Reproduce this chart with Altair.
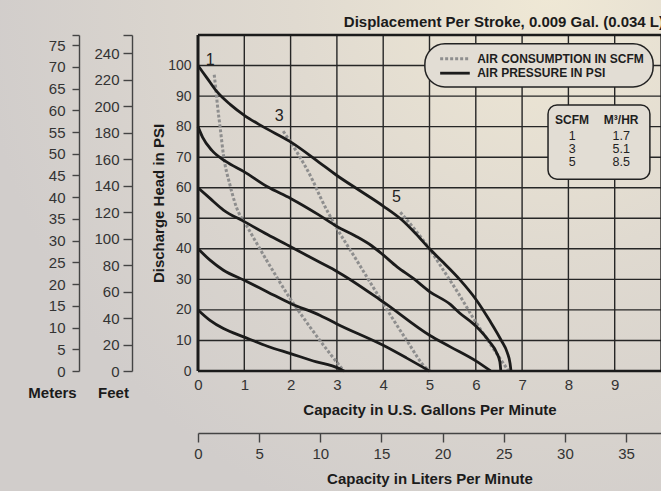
import altair as alt
import pandas as pd

SANS = "Liberation Sans, Arial, Helvetica, sans-serif"
INK = "#1b1b1b"
LABEL = "#333333"

# ---- performance curves: discharge head (psi) vs capacity (US gpm) ----
AIR_PSI = [20, 40, 60, 80, 100]
CURVE_GPM = {
    20: [0, 0.26, 0.55, 1.0, 1.5, 2.0, 2.56, 3.0, 3.15],
    40: [0, 0.26, 0.55, 1.0, 1.5, 2.0, 2.64, 3.0, 4.0, 4.5, 5.0],
    60: [0, 0.26, 0.55, 1.0, 1.5, 2.0, 2.64, 3.0, 4.0, 5.0, 5.45, 6.0, 6.32],
    80: [0, 0.1, 0.3, 0.6, 1.0, 1.5, 2.0, 2.6, 3.0, 3.4, 3.75, 4.0, 4.3, 4.65,
         5.0, 5.45, 5.65, 6.0, 6.3, 6.45, 6.52, 6.54],
    100: [0, 0.2, 0.4, 0.7, 1.0, 1.4, 2.0, 2.6, 3.0, 3.5, 4.0, 4.4, 4.7, 5.0,
          5.3, 5.65, 6.0, 6.3, 6.55, 6.68, 6.74, 6.76],
}
CURVE_PSI = {
    20: [20, 16.6, 13.9, 11.1, 8.1, 5.7, 3.0, 1.1, 0],
    40: [40, 36.3, 33.0, 29.7, 25.9, 22.1, 18.2, 15.4, 8.4, 4.3, 0],
    60: [60, 56.5, 52.7, 48.9, 44.7, 40.7, 35.5, 32.6, 22.6, 11.7, 7.9, 3.3, 0],
    80: [80, 76.5, 72.2, 68.6, 65.2, 60.3, 56.5, 51.2, 47.3, 44.2, 41.0, 38.0,
         34.1, 30.3, 26.0, 21.8, 19.0, 14.7, 9.5, 6.0, 3.0, 0],
    100: [100, 95.8, 91.6, 87.2, 83.7, 80.0, 75.0, 68.5, 64.0, 59.0, 54.0, 49.5,
          45.0, 40.0, 35.5, 30.0, 23.5, 16.5, 10.0, 6.0, 2.5, 0],
}

# ---- air consumption curves (SCFM) ----
SCFM = [1, 3, 5]
SCFM_GPM = {
    1: [0.35, 0.38, 0.42, 0.48, 0.55, 0.69, 0.87, 1.0, 1.48, 2.0, 2.42, 2.85, 3.15],
    3: [1.84, 2.13, 2.49, 2.64, 3.0, 3.36, 4.0, 4.51, 4.94, 5.02],
    5: [4.37, 4.7, 5.0, 5.3, 5.6, 6.0, 6.35, 6.55, 6.71],
}
SCFM_PSI = {
    1: [97, 93, 87, 79.5, 70.7, 60.9, 52.1, 48.8, 36.3, 23.5, 14.4, 5.7, 0],
    3: [78.5, 71.8, 62.0, 57.0, 46.7, 37.9, 22.1, 10.0, 0.8, 0],
    5: [52, 46, 40, 33, 26, 16, 8, 3.5, 0],
}

# ---- conversion table ----
TABLE_SCFM = ["1", "3", "5"]
TABLE_M3HR = ["1.7", "5.1", "8.5"]

# ---- axis ticks and frame ----
GAL_TICKS = list(range(0, 10))
GAL_GRID = list(range(1, 11))
PSI_TICKS = list(range(0, 101, 10))
PSI_GRID = list(range(10, 101, 10))
LPM_TICKS = list(range(0, 36, 5))
M_TICKS = list(range(0, 76, 5))
FT_TICKS = list(range(0, 241, 20))
FRAME_GPM = [0]
FRAME_PSI = [0, 110]

GAL_MAX, PSI_MAX = 10, 110
LPM_MAX = GAL_MAX * 3.78541
M_MAX = PSI_MAX * 0.70307
FT_MAX = PSI_MAX * 2.30666

W, H = 463, 336
PAD_L, PAD_T = 198, 35

X_GAL = alt.Scale(domain=[0, GAL_MAX], nice=False, zero=False)
Y_PSI = alt.Scale(domain=[0, PSI_MAX], nice=False, zero=False)

pressure_df = pd.DataFrame(
    [{"air": p, "gpm": g, "psi": v, "i": i}
     for p in AIR_PSI
     for i, (g, v) in enumerate(zip(CURVE_GPM[p], CURVE_PSI[p]))]
)
scfm_df = pd.DataFrame(
    [{"scfm": s, "gpm": g, "psi": v, "i": i}
     for s in SCFM
     for i, (g, v) in enumerate(zip(SCFM_GPM[s], SCFM_PSI[s]))]
)
scfm_start = scfm_df[scfm_df["i"] == 0].assign(label=lambda d: d["scfm"].astype(str))


def xg(field="gpm"):
    return alt.X(f"{field}:Q", scale=X_GAL, axis=None)


def yp(field="psi"):
    return alt.Y(f"{field}:Q", scale=Y_PSI, axis=None)


# page background
background = alt.Chart(pd.DataFrame({"k": [0]})).mark_rect(
    color={
        "gradient": "radial",
        "x1": 0.82, "y1": 0.12, "r1": 0.0,
        "x2": 0.82, "y2": 0.12, "r2": 0.85,
        "stops": [
            {"offset": 0.0, "color": "#efe8d5"},
            {"offset": 0.45, "color": "#e0dad0"},
            {"offset": 1.0, "color": "#d1cdcb"},
        ],
    }
).encode(
    x=alt.value(-PAD_L), x2=alt.value(W + 10),
    y=alt.value(-PAD_T), y2=alt.value(H + 130),
)

grid_style = dict(color="#262626", strokeWidth=1.4)
title_style = dict(titleFont=SANS, titleFontSize=15, titleFontWeight="bold",
                   titleColor=INK)

vgrid = alt.Chart(pd.DataFrame({"gpm": GAL_GRID})).mark_rule(**grid_style).encode(
    x=alt.X("gpm:Q", scale=X_GAL, axis=alt.Axis(
        orient="bottom", values=GAL_TICKS, ticks=False, domain=False, grid=False,
        labelFont=SANS, labelFontSize=15, labelColor=LABEL, labelPadding=6,
        labelFlush=False,
        title="Capacity in U.S. Gallons Per Minute", titleY=38,
        titleBaseline="middle", zindex=1, **title_style,
    ))
)

hgrid = alt.Chart(pd.DataFrame({"psi": PSI_GRID})).mark_rule(**grid_style).encode(
    y=alt.Y("psi:Q", scale=Y_PSI, axis=alt.Axis(
        orient="left", values=PSI_TICKS, ticks=False, domain=False, grid=False,
        labelFont=SANS, labelFontSize=14, labelColor=LABEL, labelPadding=7,
        labelFlush=False,
        title="Discharge Head in PSI", titleAngle=270, titleX=-40, titleY=H / 2,
        titleAlign="center", titleBaseline="middle", zindex=1, **title_style,
    ))
)

scale_axis = dict(
    domainColor="#444444", domainWidth=1.4, tickColor="#444444", tickWidth=1.4,
    labelFont=SANS, labelFontSize=15, labelColor=LABEL, labelFlush=False,
    grid=False, titleAngle=0, titleAlign="center", titleBaseline="middle",
    zindex=1, **title_style,
)

liters = alt.Chart(pd.DataFrame({"lpm": LPM_TICKS})).mark_point(opacity=0).encode(
    x=alt.X("lpm:Q", scale=alt.Scale(domain=[0, LPM_MAX], nice=False, zero=False),
            axis=alt.Axis(orient="bottom", offset=62, values=LPM_TICKS, tickSize=9,
                          labelPadding=4, title="Capacity in Liters Per Minute",
                          titleY=45, **scale_axis))
)

meters = alt.Chart(pd.DataFrame({"m": M_TICKS})).mark_point(opacity=0).encode(
    y=alt.Y("m:Q", scale=alt.Scale(domain=[0, M_MAX], nice=False, zero=False),
            axis=alt.Axis(orient="left", offset=119, values=M_TICKS + [M_MAX],
                          labelExpr="datum.value > 76 ? '' : datum.label",
                          tickSize=7, labelPadding=7, title="Meters",
                          titleX=-27, titleY=H + 21, **scale_axis))
)

feet = alt.Chart(pd.DataFrame({"ft": FT_TICKS})).mark_point(opacity=0).encode(
    y=alt.Y("ft:Q", scale=alt.Scale(domain=[0, FT_MAX], nice=False, zero=False),
            axis=alt.Axis(orient="left", offset=66, values=FT_TICKS + [FT_MAX],
                          labelExpr="datum.value > 245 ? '' : datum.label",
                          tickSize=9, labelPadding=4, title="Feet",
                          titleX=-19, titleY=H + 21, **scale_axis))
)

air_lines = alt.Chart(scfm_df).mark_line(
    color="#8e8e8e", strokeWidth=3, strokeDash=[3, 2], interpolate="monotone"
).encode(x=xg(), y=yp(), detail="scfm:N", order="i:Q")

air_labels = alt.Chart(scfm_start).mark_text(
    font=SANS, fontSize=16, color="#222222", dx=-4, dy=-15
).encode(x=xg(), y=yp(), text="label:N")

pressure_lines = alt.Chart(pressure_df).mark_line(
    color=INK, strokeWidth=2.8, interpolate="monotone"
).encode(x=xg(), y=yp(), detail="air:N", order="i:Q")

# plot frame: left, bottom and top edges
frame_v = alt.Chart(pd.DataFrame({"gpm": FRAME_GPM})).mark_rule(
    color=INK, strokeWidth=3).encode(x=xg())
frame_h = alt.Chart(pd.DataFrame({"psi": FRAME_PSI})).mark_rule(
    color=INK, strokeWidth=2.6).encode(y=yp())

# legend box
LEG = {"x": 4.9, "x2": 9.83, "y": 107.1, "y2": 93.0}
legend_box = alt.Chart(pd.DataFrame([LEG])).mark_rect(
    fill="#e2ddd4", stroke="#222222", strokeWidth=1.5, cornerRadius=20
).encode(x=xg("x"), x2="x2:Q", y=yp("y"), y2="y2:Q")
legend_df = pd.DataFrame({
    "x": [5.23, 5.23], "x2": [5.87, 5.87], "y": [102.2, 97.5], "tx": [6.03, 6.03],
    "kind": ["air", "pressure"],
    "text": ["AIR CONSUMPTION IN SCFM", "AIR PRESSURE IN PSI"],
})
legend_air = alt.Chart(legend_df[legend_df.kind == "air"]).mark_rule(
    color="#8e8e8e", strokeWidth=3, strokeDash=[3, 2]
).encode(x=xg("x"), x2="x2:Q", y=yp("y"))
legend_pressure = alt.Chart(legend_df[legend_df.kind == "pressure"]).mark_rule(
    color=INK, strokeWidth=2.8
).encode(x=xg("x"), x2="x2:Q", y=yp("y"))
legend_text = alt.Chart(legend_df).mark_text(
    align="left", baseline="middle", font=SANS, fontSize=12,
    fontWeight="bold", color="#1e1e1e"
).encode(x=xg("tx"), y=yp("y"), text="text:N")

# SCFM -> m3/hr table
TAB = {"x": 7.56, "x2": 9.76, "y": 87.1, "y2": 62.8}
table_box = alt.Chart(pd.DataFrame([TAB])).mark_rect(
    fill="#e2ddd4", stroke="#222222", strokeWidth=1.5, cornerRadius=9
).encode(x=xg("x"), x2="x2:Q", y=yp("y"), y2="y2:Q")
ROW_Y = [77.0, 72.7, 68.4]
COL_X = [8.08, 9.14]
table_head = alt.Chart(pd.DataFrame({
    "x": COL_X, "y": [82.3, 82.3], "t": ["SCFM", "M³/HR"]
})).mark_text(font=SANS, fontSize=12, fontWeight="bold", color="#1e1e1e",
              baseline="middle").encode(x=xg("x"), y=yp("y"), text="t:N")
table_rows = alt.Chart(pd.DataFrame({
    "x": [COL_X[0]] * 3 + [COL_X[1]] * 3,
    "y": ROW_Y + ROW_Y,
    "t": TABLE_SCFM + TABLE_M3HR,
})).mark_text(font=SANS, fontSize=12.5, color="#222222", baseline="middle").encode(
    x=xg("x"), y=yp("y"), text="t:N")

chart = alt.layer(
    background, vgrid, hgrid, liters, meters, feet,
    air_lines, pressure_lines, air_labels, frame_v, frame_h,
    legend_box, legend_air, legend_pressure, legend_text,
    table_box, table_head, table_rows,
).resolve_scale(
    x="independent", y="independent"
).properties(
    width=W, height=H,
    autosize=alt.AutoSizeParams(type="none"),
    padding={"left": PAD_L, "top": PAD_T, "right": 0, "bottom": 491 - PAD_T - H},
    # the page background reaches the top edge, so the title is pulled back down
    title=alt.TitleParams(
        "Displacement Per Stroke, 0.009 Gal. (0.034 L)",
        anchor="end", frame="group", font=SANS, fontSize=15,
        fontWeight="bold", color=INK, dx=3, offset=-41.5,
        baseline="alphabetic", zindex=1,
    ),
).configure(
    background="#d8d3cd"
).configure_view(
    strokeWidth=0
)

chart.save("out.html", embed_options={"renderer": "svg", "actions": False})
